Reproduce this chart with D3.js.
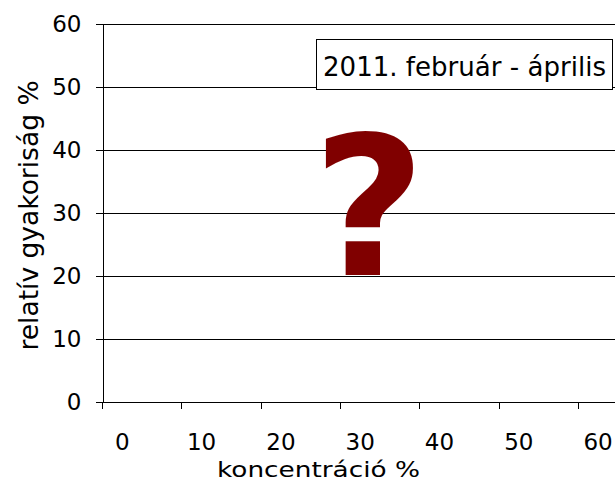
<!DOCTYPE html>
<html>
<head>
<meta charset="utf-8">
<script src="https://cdn.jsdelivr.net/npm/d3@7"></script>
<style>
  body { margin: 0; background: #fff; }
  svg { display: block; }
  text { font-family: "DejaVu Sans", Verdana, sans-serif; fill: #000; }
</style>
</head>
<body>
<svg id="chart"></svg>
<script>
// chart data (no series is plotted, only the question mark)
var categories = ["0", "10", "20", "30", "40", "50", "60"];
var yTicks = [0, 10, 20, 30, 40, 50, 60];
var seriesValues = [];
var boxTitle = "2011. február - április";
var xTitle = "koncentráció %";
var yTitle = "relatív gyakoriság %";
var markText = "?";

var width = 615, height = 482;
var plotLeft = 102.5, plotTop = 23.5, plotBottom = 401.5, step = 79.3;

var svg = d3.select("#chart")
    .attr("width", width)
    .attr("height", height);

var x = d3.scaleBand()
    .domain(categories)
    .range([plotLeft, plotLeft + step * categories.length]);
var y = d3.scaleLinear()
    .domain([0, 60])
    .range([plotBottom, plotTop]);

var plotW = x.range()[1] - plotLeft;

// gridlines
var grid = svg.append("g")
    .attr("transform", "translate(" + plotLeft + ",0)")
    .call(d3.axisLeft(y).tickValues(yTicks).tickSize(-plotW).tickFormat(""));
grid.select(".domain").remove();
grid.selectAll("line").attr("stroke", "#000").attr("shape-rendering", "crispEdges");

// y axis
var yAxis = svg.append("g")
    .attr("transform", "translate(" + plotLeft + ",0)")
    .call(d3.axisLeft(y).tickValues(yTicks).tickSize(7).tickSizeOuter(0).tickPadding(14));
yAxis.selectAll("path, line").attr("stroke", "#000").attr("shape-rendering", "crispEdges");
yAxis.selectAll("text").style("font-size", "23px").attr("dy", "0.36em");

// x axis: ticks on band edges, labels a quarter band in
var xAxis = svg.append("g")
    .attr("transform", "translate(0," + y(0) + ")")
    .call(d3.axisBottom(x).tickSize(7).tickSizeOuter(0));
xAxis.selectAll(".tick").attr("transform", function(d) { return "translate(" + x(d) + ",0)"; });
xAxis.selectAll("path, line").attr("stroke", "#000").attr("shape-rendering", "crispEdges");
xAxis.selectAll("text")
    .style("font-size", "23px")
    .attr("x", x.bandwidth() / 4)
    .attr("y", 48.5)
    .attr("dy", 0);

// axis titles
svg.append("text")
    .attr("x", 318.5)
    .attr("y", 477)
    .attr("text-anchor", "middle")
    .attr("textLength", 203)
    .attr("lengthAdjust", "spacingAndGlyphs")
    .style("font-size", "22px")
    .text(xTitle);

svg.append("text")
    .attr("transform", "translate(38,215.5) rotate(-90)")
    .attr("text-anchor", "middle")
    .style("font-size", "26.5px")
    .text(yTitle);

// big question mark
svg.append("text")
    .attr("x", 369)
    .attr("y", 275)
    .attr("text-anchor", "middle")
    .style("font-size", "195px")
    .style("font-weight", "bold")
    .style("fill", "#800000")
    .text(markText);

// title box
svg.append("rect")
    .attr("x", 316.5).attr("y", 39.5)
    .attr("width", 296).attr("height", 50)
    .attr("fill", "#fff")
    .attr("stroke", "#000");
svg.append("text")
    .attr("x", 464.5)
    .attr("y", 76)
    .attr("text-anchor", "middle")
    .attr("textLength", 283)
    .attr("lengthAdjust", "spacingAndGlyphs")
    .style("font-size", "27px")
    .text(boxTitle);
</script>
</body>
</html>
